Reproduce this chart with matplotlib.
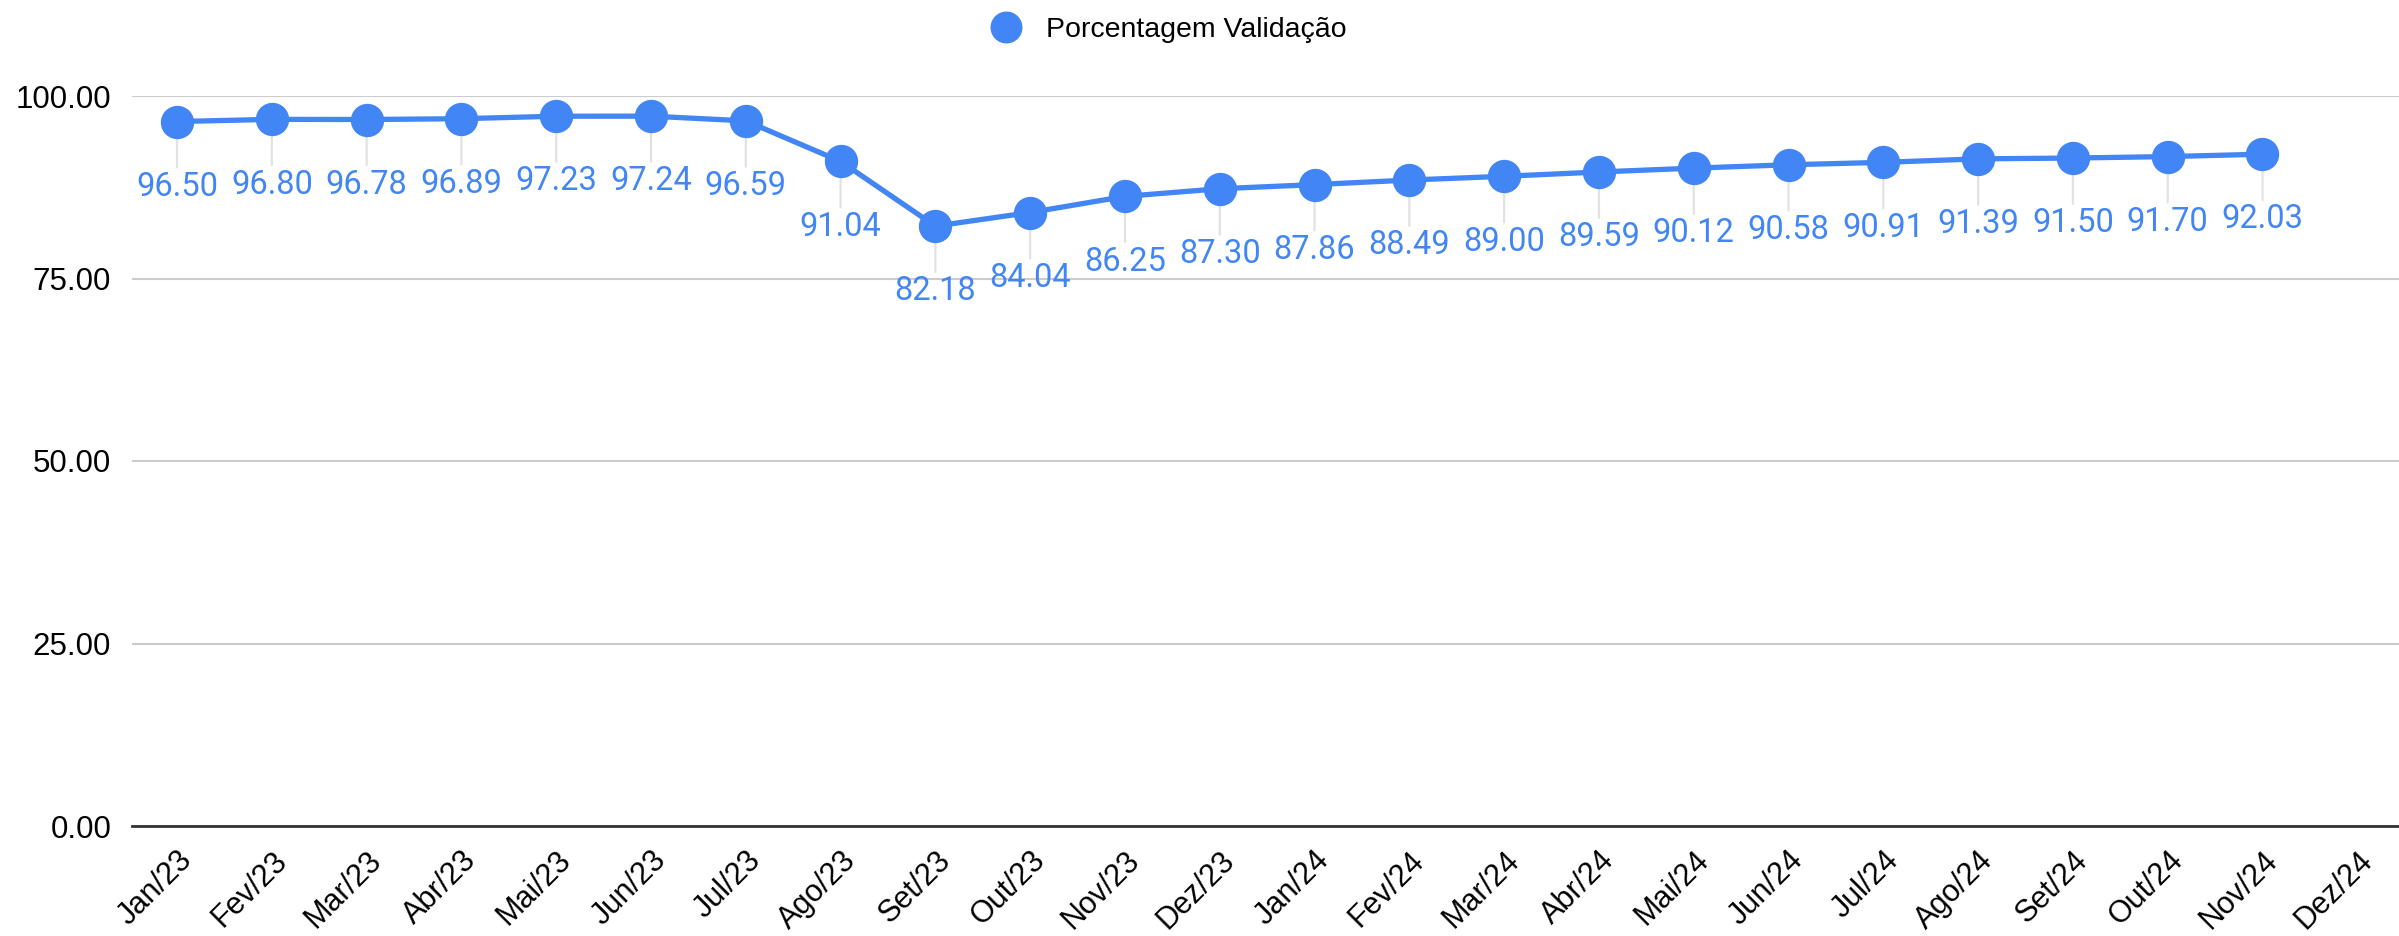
'''
porcentagem validacao line chart
'''
import numpy as np
import matplotlib.pyplot as plt
import matplotlib.transforms as mtrans
from matplotlib.lines import Line2D

# data
meses = ['Jan/23', 'Fev/23', 'Mar/23', 'Abr/23', 'Mai/23', 'Jun/23', 'Jul/23', 'Ago/23',
         'Set/23', 'Out/23', 'Nov/23', 'Dez/23', 'Jan/24', 'Fev/24', 'Mar/24', 'Abr/24',
         'Mai/24', 'Jun/24', 'Jul/24', 'Ago/24', 'Set/24', 'Out/24', 'Nov/24', 'Dez/24']
valores = [96.50, 96.80, 96.78, 96.89, 97.23, 97.24, 96.59, 91.04, 82.18, 84.04, 86.25, 87.30,
           87.86, 88.49, 89.00, 89.59, 90.12, 90.58, 90.91, 91.39, 91.50, 91.70, 92.03]
yticks = [0, 25, 50, 75, 100]
serie = 'Porcentagem Validação'

def plot_chart():
    azul = '#4285F4'
    fig = plt.figure(figsize=(23.99, 9.36), dpi=100)
    # axes box in figure fraction, measured in pixels from the reference
    ax = fig.add_axes([132/2399, 1-826/936, (2399-132)/2399, (826-96)/936])

    x = np.arange(len(valores))
    ax.plot(x, valores, color=azul, lw=3.8, marker='o', markersize=23, zorder=3)

    # labels under each point with a thin gray leader line
    for xi, v in zip(x, valores):
        # line goes from label top (xytext) up to just under the marker
        ax.annotate('', xy=(xi, v), xytext=(0, -33), textcoords='offset points',
                    arrowprops=dict(arrowstyle='-', color='#e2e2e2', lw=1.6,
                                    shrinkA=0, shrinkB=12),
                    zorder=1)
        ax.annotate(f'{v:.2f}', xy=(xi, v), xytext=(0, -47), textcoords='offset points',
                    ha='center', va='center', color=azul, fontsize=23.5, family='Roboto')

    ax.set_yticks(yticks)
    ax.set_yticklabels([f'{t:.2f}' for t in yticks], fontsize=22.5, family='Liberation Sans')
    ax.set_xticks(np.arange(len(meses)))
    ax.set_xticklabels(meses, fontsize=22, family='Liberation Sans',
                       rotation=45, ha='right', va='top', rotation_mode='anchor')
    # shift the rotated tick labels a bit right like the reference
    offset = mtrans.ScaledTranslation(11/72, 0, fig.dpi_scale_trans)
    for lbl in ax.get_xticklabels():
        lbl.set_transform(lbl.get_transform() + offset)

    ax.tick_params(axis='both', length=0)
    ax.tick_params(axis='y', pad=15)
    ax.tick_params(axis='x', pad=14)
    ax.grid(axis='y', color='#cccccc', lw=1.5, zorder=0)
    for s in ['top', 'right', 'left']:
        ax.spines[s].set_visible(False)
    ax.spines['bottom'].set_color('#333333')
    ax.spines['bottom'].set_linewidth(2)
    ax.spines['bottom'].set_zorder(2)

    handle = Line2D([], [], marker='o', ls='none', color=azul, markersize=22)
    ax.legend(handles=[handle], labels=[serie], loc='center',
              bbox_to_anchor=(1162/2399, 1-30/936), bbox_transform=fig.transFigure,
              frameon=False, handletextpad=0.4,
              prop={'family': 'Liberation Sans', 'size': 20.5})

    # limits last so nothing above can move them
    ax.set_autoscale_on(False)
    ax.set_xlim(-0.475, 23.44)
    ax.set_ylim(0, 100)

    fig.savefig('out.png', dpi=100)

if __name__ == '__main__':
    plot_chart()
